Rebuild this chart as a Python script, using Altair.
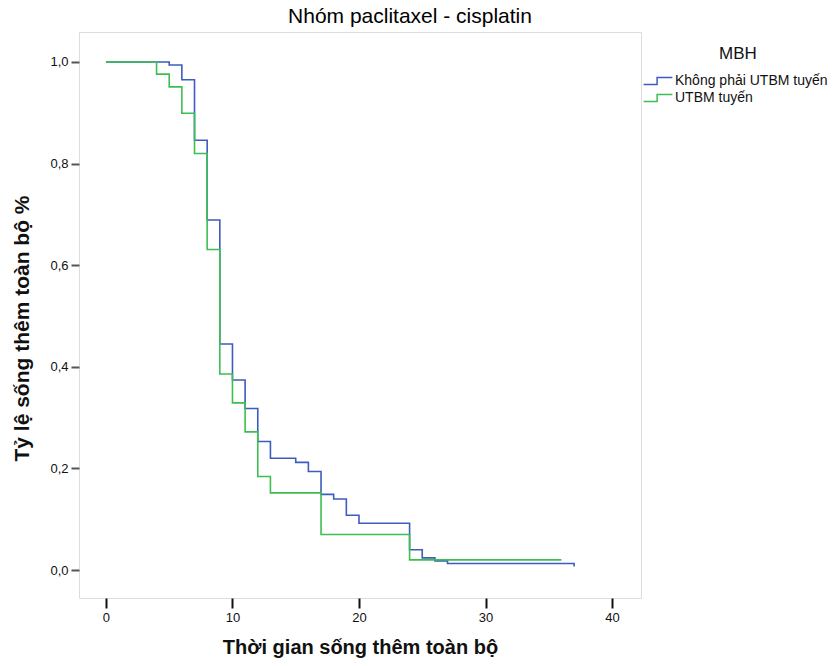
import altair as alt
import pandas as pd

# Kaplan-Meier estimates
blue_name = "Không phải UTBM tuyến"
blue_t = [0, 5, 6, 7, 8, 9, 10, 11, 12, 13, 15, 16, 17, 18, 19, 20, 24, 25, 26, 27, 37]
blue_s = [1.0, 0.994, 0.965, 0.846, 0.689, 0.445, 0.374, 0.318, 0.253, 0.220, 0.212,
          0.194, 0.149, 0.140, 0.108, 0.092, 0.040, 0.024, 0.018, 0.013, 0.007]

green_name = "UTBM tuyến"
green_t = [0, 4, 5, 6, 7, 8, 9, 10, 11, 12, 13, 17, 24, 36]
green_s = [1.0, 0.976, 0.951, 0.899, 0.820, 0.631, 0.386, 0.329, 0.272, 0.184,
           0.152, 0.070, 0.020, 0.020]

x_ticks = [0, 10, 20, 30, 40]
y_ticks = [0.0, 0.2, 0.4, 0.6, 0.8, 1.0]

rows = []
for t, s in zip(blue_t, blue_s):
    rows.append({"t": t, "s": s, "g": blue_name})
for t, s in zip(green_t, green_s):
    rows.append({"t": t, "s": s, "g": green_name})
df = pd.DataFrame(rows)

FONT = "Liberation Sans"

chart = alt.Chart(df).mark_line(interpolate="step-after", strokeWidth=1.6).encode(
    x=alt.X("t:Q",
            scale=alt.Scale(domain=[-2.13, 42.29], nice=False, zero=False),
            axis=alt.Axis(values=x_ticks, title="Thời gian sống thêm toàn bộ",
                          grid=False, domain=False, tickSize=10, tickWidth=2,
                          tickColor="#111", labelPadding=3, labelFontSize=13,
                          labelColor="#111", labelFont=FONT, titleFont=FONT,
                          titleFontSize=20, titleFontWeight="bold", titleColor="#111",
                          titlePadding=13)),
    y=alt.Y("s:Q",
            scale=alt.Scale(domain=[-0.055, 1.059], nice=False, zero=False),
            axis=alt.Axis(values=y_ticks, title="Tỷ lệ sống thêm toàn bộ %",
                          grid=False, domain=False, tickSize=8, tickWidth=2,
                          tickColor="#555", labelPadding=3, labelFontSize=13,
                          labelColor="#111", labelFont=FONT, titleFont=FONT,
                          titleFontSize=21, titleFontWeight="bold", titleColor="#111",
                          titlePadding=17, titleY=296,
                          labelExpr="replace(format(datum.value, '.1f'), '.', ',')")),
    color=alt.Color("g:N",
                    scale=alt.Scale(domain=[blue_name, green_name],
                                    range=["#3D5CBF", "#3CBF4F"]),
                    legend=alt.Legend(title="MBH", orient="none", legendX=569, legendY=14,
                                      titleAnchor="middle", titleFontSize=17,
                                      titleFontWeight="normal", titleFont=FONT,
                                      titleColor="#111", titlePadding=8,
                                      labelFont=FONT, labelFontSize=14, labelColor="#111",
                                      symbolType="M-1.6,0.4H-0.1V-0.4H1.6",
                                      symbolSize=324, symbolStrokeWidth=1.5,
                                      labelOffset=7, rowPadding=0)),
).properties(
    width=562,
    height=566,
    title=alt.TitleParams("Nhóm paclitaxel - cisplatin", fontSize=21, fontWeight="normal",
                          font=FONT, color="#000", anchor="middle", offset=5, dx=50),
    autosize=alt.AutoSizeParams(type="none"),
    padding={"left": 79, "top": 32, "right": 194, "bottom": 68},
).configure_view(
    fill="#F0F0F0", stroke="#111", strokeWidth=1.5
).configure(background="white")

chart.save("out.html", embed_options={"renderer": "svg", "actions": False})
